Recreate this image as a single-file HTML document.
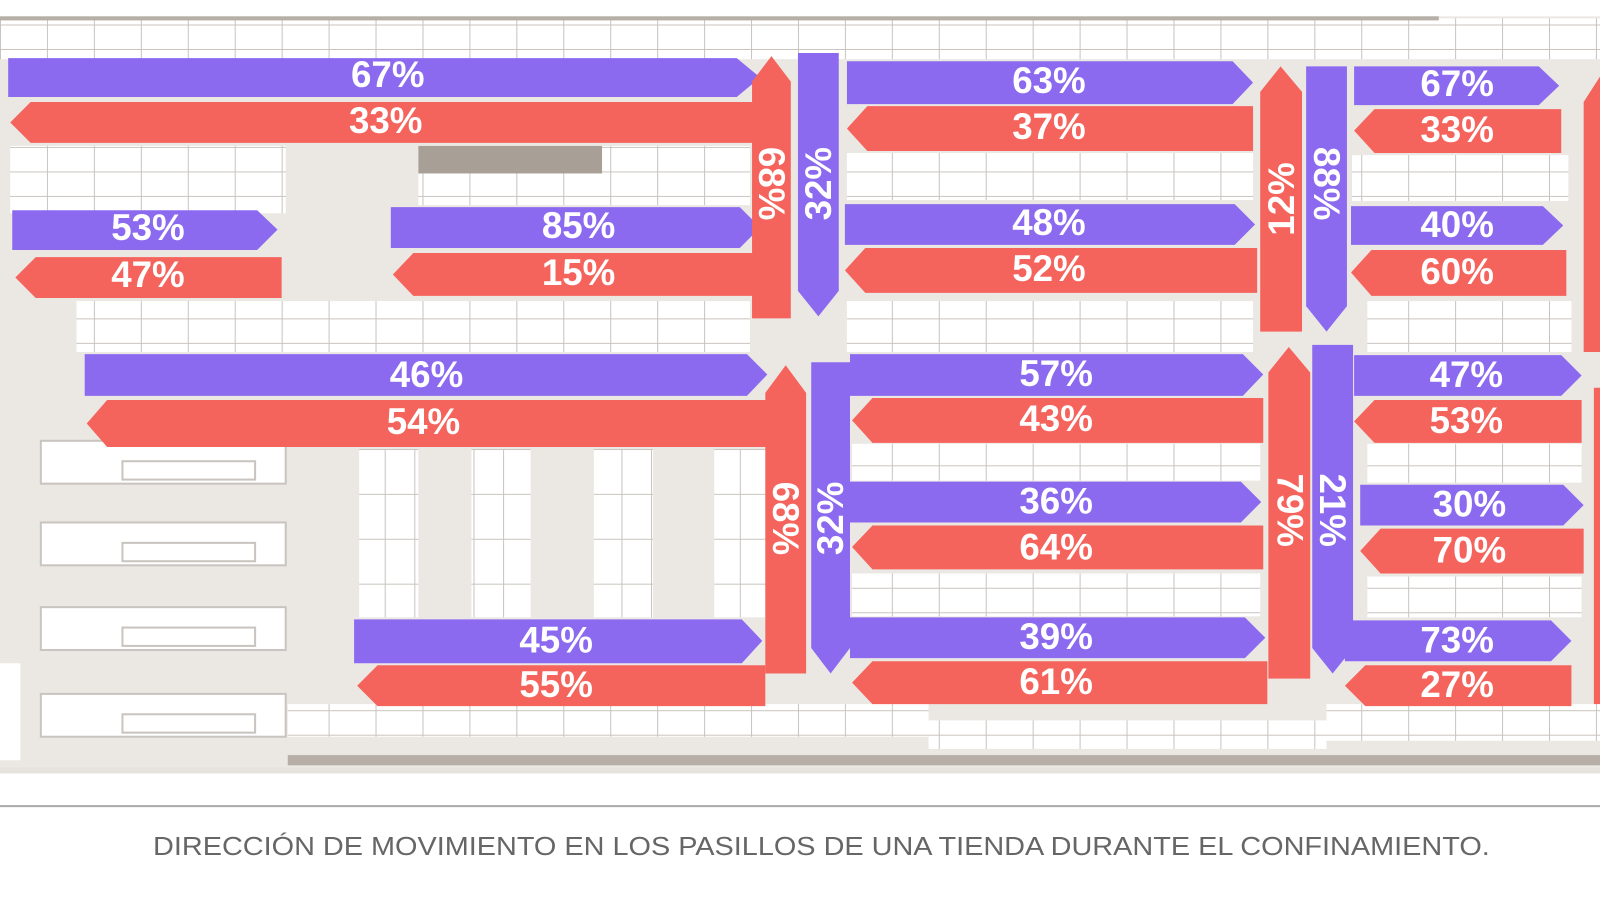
<!DOCTYPE html>
<html><head><meta charset="utf-8"><style>
html,body{margin:0;padding:0;background:#fff;}
svg{display:block}
.t{font-family:"Liberation Sans",sans-serif;font-weight:bold;font-size:36px;fill:#fff;text-anchor:middle;dominant-baseline:central}
.p{fill:#8c6af0}
.r{fill:#f5645c}
</style></head><body>
<svg width="1600" height="900" viewBox="0 0 1568 882" preserveAspectRatio="none" xmlns="http://www.w3.org/2000/svg">
<defs>
<pattern id="g" width="46" height="24" patternUnits="userSpaceOnUse">
<rect width="46" height="24" fill="#fff"/>
<path d="M0 0H46M0 0V24" stroke="#c9c4bf" stroke-width="2" fill="none"/>
</pattern>
<pattern id="v" width="29" height="44" patternUnits="userSpaceOnUse">
<rect width="29" height="44" fill="#fff"/>
<path d="M0 0H29M0 0V44" stroke="#c9c4bf" stroke-width="2" fill="none"/>
</pattern>
</defs>
<rect x="0" y="0" width="1568" height="882" fill="#fff"/>
<rect x="0" y="16" width="1568" height="740" fill="#ebe8e4"/>
<!-- shelves -->
<rect x="0" y="18" width="1568" height="40" fill="url(#g)"/>
<rect x="0" y="16" width="1410" height="4" fill="#b7afa7"/>
<rect x="10" y="143" width="270" height="66" fill="url(#g)"/>
<rect x="410" y="143" width="325" height="58" fill="url(#g)"/>
<rect x="410" y="143" width="180" height="27" fill="#a89f96"/>
<rect x="830" y="150" width="398" height="46" fill="url(#g)"/>
<rect x="1325" y="152" width="212" height="45" fill="url(#g)"/>
<rect x="75" y="295" width="660" height="50" fill="url(#g)"/>
<rect x="830" y="295" width="398" height="50" fill="url(#g)"/>
<rect x="1340" y="295" width="200" height="50" fill="url(#g)"/>
<rect x="352" y="440" width="58" height="165" fill="url(#v)"/>
<rect x="462" y="440" width="58" height="165" fill="url(#v)"/>
<rect x="582" y="440" width="58" height="165" fill="url(#v)"/>
<rect x="700" y="440" width="50" height="165" fill="url(#v)"/>
<rect x="835" y="435" width="400" height="36" fill="url(#g)"/>
<rect x="835" y="562" width="400" height="42" fill="url(#g)"/>
<rect x="1340" y="435" width="210" height="38" fill="url(#g)"/>
<rect x="1340" y="565" width="210" height="40" fill="url(#g)"/>
<g fill="#fff" stroke="#c9c4bf" stroke-width="2">
<rect x="40" y="432" width="240" height="42"/><rect x="120" y="452" width="130" height="18"/>
<rect x="40" y="512" width="240" height="42"/><rect x="120" y="532" width="130" height="18"/>
<rect x="40" y="595" width="240" height="42"/><rect x="120" y="615" width="130" height="18"/>
<rect x="40" y="680" width="240" height="42"/><rect x="120" y="700" width="130" height="18"/>
</g>
<rect x="0" y="650" width="20" height="95" fill="#fff"/>
<rect x="282" y="690" width="628" height="32" fill="url(#g)"/>
<rect x="910" y="706" width="390" height="28" fill="url(#g)"/>
<rect x="1300" y="690" width="268" height="36" fill="url(#g)"/>
<rect x="282" y="740" width="1286" height="10" fill="#b7afa7"/>
<rect x="0" y="752" width="1568" height="6" fill="#e6e3df"/>
<line x1="0" y1="790" x2="1568" y2="790" stroke="#aaa" stroke-width="2"/>
<text x="805" y="830" font-family="Liberation Sans,sans-serif" font-size="25" fill="#666" text-anchor="middle" dominant-baseline="central" textLength="1310" lengthAdjust="spacingAndGlyphs">DIRECCIÓN DE MOVIMIENTO EN LOS PASILLOS DE UNA TIENDA DURANTE EL CONFINAMIENTO.</text>

<!-- horizontal arrows -->
<polygon class="p" points="8,57 722,57 745,76 722,95 8,95"/>
<polygon class="r" points="30,100 740,100 740,140 30,140 10,120"/>
<polygon class="p" points="12,206 252,206 272,225 252,245 12,245"/>
<polygon class="r" points="35,252 276,252 276,292 35,292 15,272"/>
<polygon class="p" points="383,203 725,203 745,223 725,243 383,243"/>
<polygon class="r" points="405,248 745,248 745,290 405,290 385,269"/>
<polygon class="p" points="830,60 1208,60 1228,81 1208,102 830,102"/>
<polygon class="r" points="850,104 1228,104 1228,148 850,148 830,126"/>
<polygon class="p" points="828,200 1210,200 1230,220 1210,240 828,240"/>
<polygon class="r" points="848,243 1232,243 1232,287 848,287 828,265"/>
<polygon class="p" points="1327,65 1508,65 1528,84 1508,103 1327,103"/>
<polygon class="r" points="1347,107 1530,107 1530,150 1347,150 1327,128"/>
<polygon class="p" points="1324,202 1512,202 1532,221 1512,240 1324,240"/>
<polygon class="r" points="1344,245 1535,245 1535,290 1344,290 1324,267"/>
<polygon class="p" points="83,347 732,347 752,367 732,388 83,388"/>
<polygon class="r" points="105,392 752,392 752,438 105,438 85,415"/>
<polygon class="p" points="833,347 1218,347 1238,367 1218,388 833,388"/>
<polygon class="r" points="855,390 1238,390 1238,434 855,434 835,412"/>
<polygon class="p" points="833,472 1216,472 1236,492 1216,512 833,512"/>
<polygon class="r" points="855,515 1238,515 1238,558 855,558 835,536"/>
<polygon class="p" points="833,605 1220,605 1240,625 1220,645 833,645"/>
<polygon class="r" points="855,648 1242,648 1242,690 855,690 835,669"/>
<polygon class="p" points="347,607 727,607 747,628 727,650 347,650"/>
<polygon class="r" points="370,652 750,652 750,692 370,692 350,672"/>
<polygon class="p" points="1327,348 1530,348 1550,368 1530,388 1327,388"/>
<polygon class="r" points="1347,392 1550,392 1550,434 1347,434 1327,413"/>
<polygon class="p" points="1333,475 1532,475 1552,495 1532,515 1333,515"/>
<polygon class="r" points="1353,518 1552,518 1552,562 1353,562 1333,540"/>
<polygon class="p" points="1318,608 1520,608 1540,628 1520,648 1318,648"/>
<polygon class="r" points="1338,652 1540,652 1540,692 1338,692 1318,672"/>

<!-- vertical arrows -->
<polygon class="r" points="756,55 775,80 775,312 737,312 737,80"/>
<polygon class="p" points="782,52 822,52 822,285 802,310 782,285"/>
<polygon class="r" points="1255,65 1276,90 1276,325 1235,325 1235,90"/>
<polygon class="p" points="1280,65 1320,65 1320,300 1300,325 1280,300"/>
<polygon class="r" points="1568,75 1568,345 1552,345 1552,100"/>
<polygon class="r" points="770,358 790,385 790,660 750,660 750,385"/>
<polygon class="p" points="795,355 833,355 833,635 814,660 795,635"/>
<polygon class="r" points="1263,340 1284,365 1284,665 1243,665 1243,365"/>
<polygon class="p" points="1286,338 1326,338 1326,635 1306,660 1286,635"/>
<rect class="r" x="1562" y="380" width="6" height="310"/>

<!-- labels -->
<g class="t">
<text x="380" y="73">67%</text><text x="378" y="118">33%</text>
<text x="145" y="223">53%</text><text x="145" y="269">47%</text>
<text x="567" y="221">85%</text><text x="567" y="267">15%</text>
<text x="1028" y="79">63%</text><text x="1028" y="124">37%</text>
<text x="1028" y="218">48%</text><text x="1028" y="263">52%</text>
<text x="1428" y="82">67%</text><text x="1428" y="127">33%</text>
<text x="1428" y="220">40%</text><text x="1428" y="266">60%</text>
<text x="418" y="367">46%</text><text x="415" y="413">54%</text>
<text x="1035" y="366">57%</text><text x="1035" y="410">43%</text>
<text x="1035" y="491">36%</text><text x="1035" y="536">64%</text>
<text x="1035" y="624">39%</text><text x="1035" y="668">61%</text>
<text x="545" y="627">45%</text><text x="545" y="671">55%</text>
<text x="1437" y="367">47%</text><text x="1437" y="412">53%</text>
<text x="1440" y="494">30%</text><text x="1440" y="539">70%</text>
<text x="1428" y="627">73%</text><text x="1428" y="671">27%</text>
<text transform="translate(756,180) rotate(90)">68%</text>
<text transform="translate(802,180) rotate(-90)">32%</text>
<text transform="translate(1256,195) rotate(-90)">12%</text>
<text transform="translate(1300,180) rotate(90)">88%</text>
<text transform="translate(770,508) rotate(90)">68%</text>
<text transform="translate(814,508) rotate(-90)">32%</text>
<text transform="translate(1264,500) rotate(90)">79%</text>
<text transform="translate(1306,500) rotate(90)">21%</text>
</g>
</svg>
</body></html>
